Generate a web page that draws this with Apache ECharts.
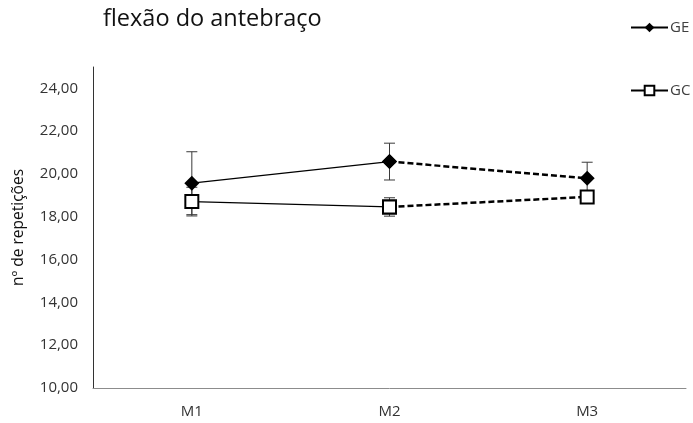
<!DOCTYPE html>
<html>
<head>
<meta charset="utf-8">
<script src="https://cdn.jsdelivr.net/npm/echarts@6/dist/echarts.min.js"></script>
<style>
  html, body { margin: 0; padding: 0; background: #fff; }
  #chart { width: 693px; height: 423px; }
</style>
</head>
<body>
<div id="chart"></div>
<script>
// Moments of measurement
const categories = ['M1', 'M2', 'M3'];

// Mean number of repetitions per group
const geMeans = [19.57, 20.58, 19.80];
const gcMeans = [18.71, 18.46, 18.93];

// Standard deviations (error bars)
const geSd = [1.47, 0.86, 0.75];
const gcSd = [0.67, 0.43, 0.20];

// Y-axis range and step
const yMin = 10, yMax = 25, yStep = 2;

const FONT = 'Open Sans';

function errorData(means, sds) {
  return means.map((m, i) => [i, m - sds[i], m + sds[i]]);
}

function errorSeries(name, means, sds) {
  return {
    name: name,
    type: 'custom',
    z: 1,
    silent: true,
    renderItem: function (params, api) {
      const x = api.value(0);
      const lo = api.coord([x, api.value(1)]);
      const hi = api.coord([x, api.value(2)]);
      const half = 5.5;
      const style = { stroke: '#3a3a3a', lineWidth: 1 };
      return {
        type: 'group',
        children: [
          { type: 'line', shape: { x1: hi[0], y1: hi[1], x2: lo[0], y2: lo[1] }, style: style },
          { type: 'line', shape: { x1: hi[0] - half, y1: hi[1], x2: hi[0] + half, y2: hi[1] }, style: style },
          { type: 'line', shape: { x1: lo[0] - half, y1: lo[1], x2: lo[0] + half, y2: lo[1] }, style: style }
        ]
      };
    },
    encode: { x: 0, y: [1, 2] },
    data: errorData(means, sds)
  };
}

// Segment M1–M2 solid, segment M2–M3 dashed
function firstPart(arr) { return [arr[0], arr[1], '-']; }
function secondPart(arr) { return ['-', arr[1], arr[2]]; }

const geMarker = {
  symbol: 'diamond',
  symbolSize: 15,
  itemStyle: { color: '#000', borderColor: '#000', borderWidth: 0 }
};
const gcMarker = {
  symbol: 'rect',
  symbolSize: 13,
  itemStyle: { color: '#fff', borderColor: '#000', borderWidth: 2 }
};

const legendText = { fontFamily: FONT, fontSize: 15, color: '#404040', padding: [0, 0, 0, -3] };

const chart = echarts.init(document.getElementById('chart'), null, { renderer: 'canvas' });

chart.setOption({
  animation: false,
  backgroundColor: '#fff',
  title: {
    text: 'flexão do antebraço',
    left: 98,
    top: 2,
    textStyle: { fontFamily: FONT, fontSize: 23.5, fontWeight: 'normal', color: '#111' }
  },
  legend: [
    {
      data: ['GE'],
      left: 625,
      top: 15,
      itemWidth: 37,
      itemHeight: 12,
      itemGap: 4,
      textStyle: legendText
    },
    {
      data: ['GC'],
      left: 625,
      top: 78,
      itemWidth: 37,
      itemHeight: 12,
      itemGap: 4,
      textStyle: legendText
    }
  ],
  grid: { left: 93, right: 7, top: 67, bottom: 35, containLabel: false },
  xAxis: {
    type: 'category',
    data: categories,
    boundaryGap: true,
    axisLine: { lineStyle: { color: '#8c8c8c', width: 1 } },
    axisTick: { show: false },
    axisLabel: { fontFamily: FONT, fontSize: 15, color: '#333', margin: 16 },
    splitLine: { show: false }
  },
  yAxis: {
    type: 'value',
    min: yMin,
    max: yMax,
    interval: yStep,
    name: 'nº de repetições',
    nameLocation: 'middle',
    nameGap: 66,
    nameTextStyle: { fontFamily: FONT, fontSize: 15.5, color: '#111' },
    axisLine: { show: true, lineStyle: { color: '#333', width: 1 } },
    axisTick: { show: false },
    splitLine: { show: false },
    axisLabel: {
      fontFamily: FONT,
      fontSize: 15,
      color: '#333',
      margin: 15,
      showMaxLabel: false,
      formatter: function (v) { return v.toFixed(2).replace('.', ','); }
    }
  },
  series: [
    errorSeries('GE-err', geMeans, geSd),
    errorSeries('GC-err', gcMeans, gcSd),
    Object.assign({
      name: 'GE-dash',
      type: 'line',
      z: 3,
      data: secondPart(geMeans),
      showAllSymbol: true,
      lineStyle: { color: '#000', width: 2.5, type: [6, 3] }
    }, geMarker),
    Object.assign({
      name: 'GC-dash',
      type: 'line',
      z: 3,
      data: secondPart(gcMeans),
      showAllSymbol: true,
      lineStyle: { color: '#000', width: 2.5, type: [6, 3] }
    }, gcMarker),
    Object.assign({
      name: 'GE',
      type: 'line',
      z: 4,
      data: firstPart(geMeans),
      showAllSymbol: true,
      lineStyle: { color: '#000', width: 1.3 }
    }, geMarker),
    Object.assign({
      name: 'GC',
      type: 'line',
      z: 4,
      data: firstPart(gcMeans),
      showAllSymbol: true,
      lineStyle: { color: '#000', width: 1.3 }
    }, gcMarker)
  ]
});
</script>
</body>
</html>
